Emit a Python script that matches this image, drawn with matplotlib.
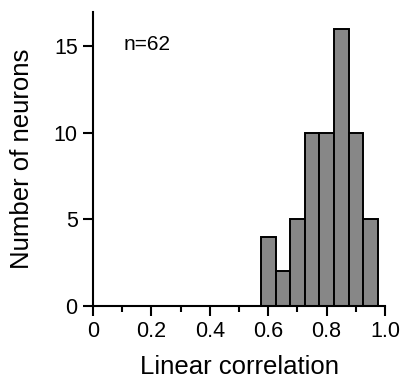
import matplotlib
matplotlib.use('Agg')
import matplotlib.pyplot as plt
import numpy as np
from matplotlib.ticker import MultipleLocator

plt.rcParams['font.family'] = ['Liberation Sans', 'DejaVu Sans']

# -------------------- data --------------------
bin_left = [0.575, 0.625, 0.675, 0.725, 0.775, 0.825, 0.875, 0.925]
counts = [4, 2, 5, 10, 10, 16, 10, 5]
bin_width = 0.05
x_ticks = [0, 0.2, 0.4, 0.6, 0.8, 1.0]
x_tick_labels = ['0', '0.2', '0.4', '0.6', '0.8', '1.0']
y_ticks = [0, 5, 10, 15]

# -------------------- figure --------------------
fig = plt.figure(figsize=(4.0, 3.81), dpi=100)
ax = fig.add_axes([0.2325, 0.197, 0.73, 0.772])

ax.bar(bin_left, counts, width=bin_width, align='edge',
       color='#878787', edgecolor='black', linewidth=1.4)

ax.set_xlim(0, 1.0)
ax.set_ylim(0, 17)
ax.set_xticks(x_ticks)
ax.set_xticklabels(x_tick_labels)
ax.xaxis.set_minor_locator(MultipleLocator(0.1))
ax.set_yticks(y_ticks)

for s in ['top', 'right']:
    ax.spines[s].set_visible(False)
for s in ['left', 'bottom']:
    ax.spines[s].set_linewidth(1.5)

ax.tick_params(axis='both', which='major', direction='out', length=7,
               width=1.5, labelsize=15.5, pad=4)
ax.tick_params(axis='x', which='minor', direction='out', length=4, width=1.5)

ax.set_xlabel('Linear correlation', fontsize=18.5, labelpad=9)
ax.set_ylabel('Number of neurons', fontsize=18.5, labelpad=14)

ax.text(0.105, 15.1, 'n=62', fontsize=15, ha='left', va='center')

fig.savefig('out.png', dpi=100)
